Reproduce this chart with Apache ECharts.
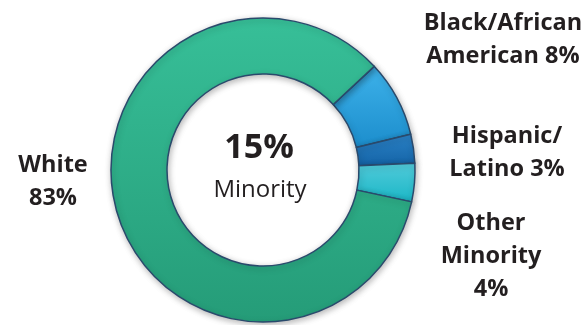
<!DOCTYPE html>
<html>
<head>
<meta charset="utf-8">
<script src="https://cdn.jsdelivr.net/npm/echarts@6/dist/echarts.min.js"></script>
<style>
  html, body { margin: 0; padding: 0; background: #ffffff; }
  #chart { width: 585px; height: 325px; }
</style>
</head>
<body>
<div id="chart"></div>
<script>
// Population share by race / ethnicity (percent)
var categories = ['Black/African American', 'Hispanic/Latino', 'Other Minority', 'White'];
var labelNames = ['Black/African\nAmerican', 'Hispanic/\nLatino', 'Other\nMinority', 'White'];
var values = [8, 3, 4, 83];
var minorityFlags = [true, true, true, false];
var centerCaption = 'Minority';

// Gradient stops (top, bottom) for each slice
var sliceColors = [
  ['#3db2ea', '#1c8dcc'],
  ['#2b82c6', '#1463a6'],
  ['#52cbda', '#1ab6c6'],
  ['#37bf98', '#259c78']
];
// Label anchor points (centre of each text block) and line separators
var labelAnchors = [[503, 40], [507, 153], [491, 256], [53, 182]];
var valueSeparators = [' ', ' ', '\n', '\n'];

var minorityTotal = values.reduce(function (s, v, i) { return minorityFlags[i] ? s + v : s; }, 0);

var chart = echarts.init(document.getElementById('chart'), null, { renderer: 'canvas' });

var data = categories.map(function (name, i) {
  return {
    name: name,
    value: values[i],
    itemStyle: {
      color: new echarts.graphic.LinearGradient(0, 0, 0, 1, [
        { offset: 0, color: sliceColors[i][0] },
        { offset: 1, color: sliceColors[i][1] }
      ])
    }
  };
});

chart.setOption({
  animation: false,
  backgroundColor: '#ffffff',
  series: [{
    type: 'pie',
    center: [263, 170],
    radius: [96, 152],
    startAngle: 43,
    clockwise: true,
    avoidLabelOverlap: false,
    itemStyle: {
      borderColor: '#2a4a6c',
      borderWidth: 1.5,
      shadowBlur: 6,
      shadowOffsetX: 1,
      shadowOffsetY: 2,
      shadowColor: 'rgba(0,0,0,0.28)'
    },
    label: {
      show: true,
      position: 'outside',
      formatter: function (p) {
        return labelNames[p.dataIndex] + valueSeparators[p.dataIndex] + p.value + '%';
      },
      fontFamily: 'Open Sans',
      fontWeight: 'bold',
      fontSize: 23.5,
      lineHeight: 33,
      color: '#231f20',
      align: 'center'
    },
    labelLine: { show: false },
    labelLayout: function (params) {
      var a = labelAnchors[params.dataIndex];
      return { x: a[0], y: a[1], align: 'center', verticalAlign: 'middle', hideOverlap: false };
    },
    emphasis: { disabled: true },
    data: data
  }],
  graphic: [
    {
      type: 'text',
      x: 259,
      y: 148,
      style: {
        text: minorityTotal + '%',
        fontFamily: 'Open Sans',
        fontWeight: 'bold',
        fontSize: 34,
        fill: '#231f20',
        align: 'center',
        verticalAlign: 'middle'
      }
    },
    {
      type: 'text',
      x: 260,
      y: 190,
      style: {
        text: centerCaption,
        fontFamily: 'Open Sans',
        fontSize: 24,
        fill: '#231f20',
        align: 'center',
        verticalAlign: 'middle'
      }
    }
  ]
});
</script>
</body>
</html>
